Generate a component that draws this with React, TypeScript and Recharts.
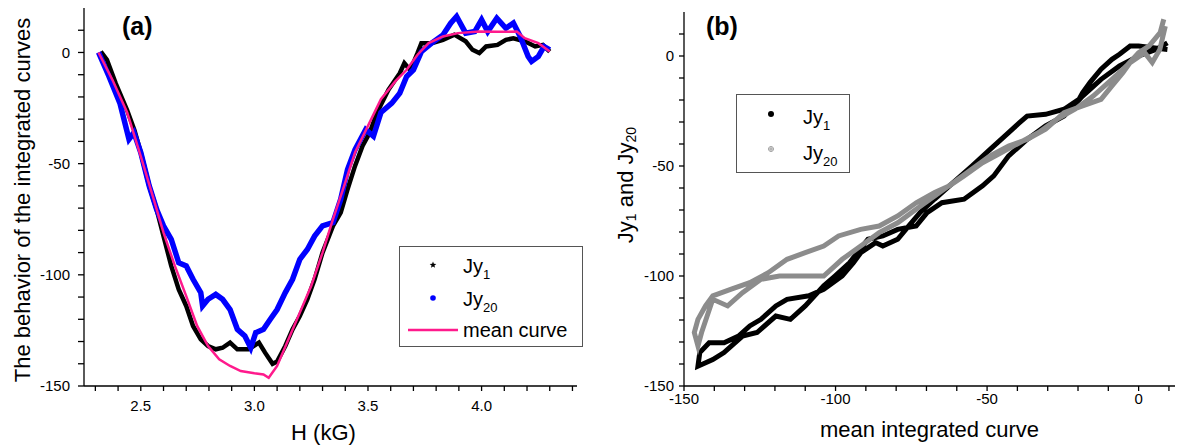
import { ComposedChart, Line, XAxis, YAxis, Legend } from 'recharts';

const FONT = '"Liberation Sans", Arial, Helvetica, sans-serif';
const PINK = '#ff1a8c';
const BLUE = '#0000ff';
const GREY = '#8c8c8c';

// ---------------------------------------------------------------------------
// Panel (a): integrated curves vs field H (kG)
// ---------------------------------------------------------------------------

const jy1H = [
  2.324, 2.351, 2.39, 2.44, 2.472, 2.5, 2.537, 2.57, 2.6, 2.634, 2.667, 2.7, 2.73, 2.764,
  2.796, 2.83, 2.86, 2.893, 2.925, 2.974, 3.02, 3.047, 3.08, 3.1, 3.136, 3.168, 3.2, 3.233,
  3.265, 3.3, 3.346, 3.38, 3.41, 3.443, 3.476, 3.508, 3.54, 3.59, 3.64, 3.66, 3.686, 3.718,
  3.735, 3.78, 3.83, 3.88, 3.93, 3.96, 3.99, 4.02, 4.07, 4.107, 4.14, 4.19, 4.236, 4.27, 4.3,
];
const jy1Vals = [
  0.4, -3.3, -14, -26, -35, -45, -60, -70.7, -82.6, -96, -106.6, -114, -123, -129,
  -132, -133.5, -132.8, -130.5, -133.5, -133.5, -130.5, -135, -140, -139, -132, -124.5, -118.5, -111,
  -102, -90, -78, -72, -61.6, -51, -42, -36, -27, -16.8, -9.3, -4.8, -8, -0.3,
  4.2, 4.2, 5.7, 8, 5, 1.2, -0.3, 2.7, 3.4, 5.7, 6.4, 5, 2.7, 3.4, 0.4,
];

const jy20H = [
  2.314, 2.36, 2.408, 2.448, 2.47, 2.5, 2.537, 2.57, 2.6, 2.634, 2.667, 2.7, 2.73, 2.764,
  2.772, 2.796, 2.83, 2.86, 2.893, 2.925, 2.958, 2.984, 3.006, 3.04, 3.07, 3.1, 3.136, 3.168,
  3.2, 3.233, 3.265, 3.3, 3.346, 3.38, 3.41, 3.443, 3.49, 3.524, 3.557, 3.605, 3.64, 3.67,
  3.7, 3.735, 3.78, 3.83, 3.864, 3.89, 3.93, 3.97, 4.0, 4.027, 4.067, 4.107, 4.14, 4.17,
  4.205, 4.22, 4.25, 4.275, 4.3,
];
const jy20Vals = [
  0, -10.8, -22.8, -39, -36, -45, -60, -70.7, -78, -84, -94.6, -96, -102, -108,
  -114, -111, -108.8, -111, -115.6, -124.5, -127.5, -132.8, -126, -124.5, -120, -115.6, -108, -102,
  -93, -88.6, -82.6, -78, -76.5, -66, -52.7, -43.7, -34.7, -37.7, -27, -22.8, -18.3, -10.8,
  -7.8, 0.4, 4.2, 7.9, 13.2, 16.2, 8.7, 9.4, 14.7, 9.4, 15.4, 10.9, 13.2, 7.2,
  -1.8, -4, -1.8, 2.7, 1.2,
];

const meanH = [
  2.314, 2.375, 2.44, 2.5, 2.553, 2.6, 2.65, 2.7, 2.748, 2.796, 2.845, 2.893, 2.94, 3.0,
  3.04, 3.063, 3.1, 3.15, 3.2, 3.25, 3.3, 3.346, 3.395, 3.443, 3.5, 3.557, 3.62, 3.67,
  3.718, 3.767, 3.83, 3.896, 3.99, 4.07, 4.155, 4.19, 4.25, 4.3,
];
const meanVals = [
  0, -12.3, -27, -46.7, -64.7, -81, -96, -109.6, -123, -132, -138, -141, -143.3, -144.3,
  -144.8, -146.3, -141, -129, -117, -105, -90, -75, -60, -45, -33, -21, -13, -7.8,
  -1, 4.2, 7.2, 8.7, 9.4, 9.3, 9.4, 6.4, 4.2, 0.4,
];

const xTicksA = [2.3, 2.4, 2.5, 2.6, 2.7, 2.8, 2.9, 3.0, 3.1, 3.2, 3.3, 3.4, 3.5, 3.6, 3.7, 3.8, 3.9, 4.0, 4.1, 4.2, 4.3, 4.4];
const xLabelsA = [2.5, 3.0, 3.5, 4.0];
const yTicks = [-150, -140, -130, -120, -110, -100, -90, -80, -70, -60, -50, -40, -30, -20, -10, 0, 10];
const yLabels = [-150, -100, -50, 0];

// ---------------------------------------------------------------------------
// Panel (b): Jy vs mean integrated curve (traced in path order)
// ---------------------------------------------------------------------------

const jy1Mean = [
  9.5, 0, -2.8, -6.3, -8.8, -12.4, -16, -18.5, -19.7, -24.6, -30.7, -36.8, -39.3, -42.9,
  -49, -55, -61.2, -67.3, -72, -75.9, -79.5, -84.4, -86.8, -91.7, -94.1, -97.8, -103.9, -108.8,
  -116, -119.7, -124.6, -128.3, -132, -136.8, -141.7, -144.8, -145.4,
  -140.5, -136.8, -130.7, -125.9, -119.7, -114.9, -110, -103.9, -100.2, -95.4, -89.3, -84.4,
  -79.5, -73.4, -69.8, -64.9, -57.6, -51.5, -47.8, -42.9, -36.8, -30.7, -24.6, -18.5, -12.4,
  -6.3, 0, 5.7, 9.5,
];
const jy1B = [
  3, 4.5, 4.5, 0.8, -1.5, -6, -12, -16.7, -19.7, -24.2, -26.5, -27.3, -30.3, -34.8,
  -42.4, -50, -57.6, -65, -71, -77.3, -83.3, -86.4, -84.8, -89.4, -94, -100, -106, -109,
  -110.6, -113.6, -119.7, -122.7, -127.3, -130.3, -130.3, -134.8, -141,
  -138, -134.8, -127.3, -125.7, -118.2, -119.7, -113.6, -104.5, -100, -94, -83.3, -81.8,
  -78.8, -77.3, -71.2, -66.7, -65.1, -59, -54.5, -45.4, -37.9, -31.8, -27.3, -18.2, -10.6,
  -4.5, 0, 3, 6,
];

const jy20Mean = [
  8.3, 7.1, 3.4, 0, -4, -8.8, -15, -21, -27, -33, -39.3, -45.4, -51.5, -57.6,
  -62.4, -67.3, -73.4, -79.5, -85.6, -91.7, -99, -103.9, -110, -116, -122.2, -128.3, -134.4, -140.5,
  -142.9, -145.4, -146.6, -145.4, -144.2,
  -140.5, -135.6, -130.7, -124.6, -118.5, -111.2, -103.9, -97.8, -91.7, -85.6, -79.5, -73.4,
  -67.3, -61.2, -55.1, -49, -42.9, -36.8, -30.7, -24.6, -18.5, -12.4, -8.8, -5.2, -2.8,
  2, 4.5, 7, 8.8,
];
const jy20B = [
  16.7, 10.6, 4.5, 1.5, -4.5, -10.6, -18.2, -24.2, -28.8, -34.8, -39.4, -44, -48.5, -54.5,
  -59, -62, -66.7, -72.7, -77.3, -78.8, -81.8, -86.4, -89.4, -92.4, -98.5, -103, -106, -109,
  -113.6, -119.7, -125.7, -131.8, -125.7,
  -110.6, -113.6, -107.6, -101.5, -100, -100, -100, -92.4, -86.4, -80.3, -75.8, -69.7,
  -63.6, -57.6, -51.5, -45.4, -40.9, -37.9, -33.3, -25.8, -22.7, -19.7, -13.6, -7.6, -3,
  1.5, -3, 3, 13.6,
];

const xTicksB = [-150, -140, -130, -120, -110, -100, -90, -80, -70, -60, -50, -40, -30, -20, -10, 0, 10];
const xLabelsB = [-150, -100, -50, 0];

// ---------------------------------------------------------------------------
// Helpers
// ---------------------------------------------------------------------------

const zip = (xs: number[], ys: number[]) => xs.map((x, i) => ({ x, y: ys[i] }));

const tickStyle = { fontSize: 15, fill: '#000', fontFamily: FONT };
const axisLine = { stroke: '#000', strokeWidth: 1.3 };

function YTitleA({ viewBox }: any) {
  const cx = 22;
  const cy = viewBox.y + viewBox.height / 2 + 3;
  return (
    <text
      x={cx}
      y={cy}
      transform={`rotate(-90 ${cx} ${cy})`}
      textAnchor="middle"
      dominantBaseline="central"
      fontFamily={FONT}
      fontSize={22}
      fill="#000"
    >
      The behavior of the integrated curves
    </text>
  );
}

function YTitleB({ viewBox }: any) {
  const cx = 25;
  const cy = viewBox.y + viewBox.height / 2 - 14;
  return (
    <text
      x={cx}
      y={cy}
      transform={`rotate(-90 ${cx} ${cy})`}
      textAnchor="middle"
      dominantBaseline="central"
      fontFamily={FONT}
      fontSize={22}
      fill="#000"
    >
      Jy<tspan fontSize={14} dy={6}>1</tspan>
      <tspan dy={-6}> and Jy</tspan>
      <tspan fontSize={14} dy={6}>20</tspan>
    </text>
  );
}

function Star({ cx, cy }: { cx: number; cy: number }) {
  const pts: string[] = [];
  for (let i = 0; i < 10; i++) {
    const r = i % 2 === 0 ? 3.5 : 1.5;
    const a = -Math.PI / 2 + (i * Math.PI) / 5;
    pts.push(`${cx + r * Math.cos(a)},${cy + r * Math.sin(a)}`);
  }
  return <polygon points={pts.join(' ')} fill="#000" />;
}

function LegendA() {
  return (
    <svg width={185} height={102} style={{ display: 'block' }}>
      <rect x={0.5} y={0.5} width={183} height={100} fill="#fff" stroke="#555" strokeWidth={1} />
      <Star cx={34} cy={19} />
      <text x={64} y={27} fontFamily={FONT} fontSize={20}>
        Jy<tspan fontSize={13} dy={6}>1</tspan>
      </text>
      <circle cx={34} cy={52} r={2.8} fill={BLUE} />
      <text x={64} y={60} fontFamily={FONT} fontSize={20}>
        Jy<tspan fontSize={13} dy={6}>20</tspan>
      </text>
      <line x1={9} x2={59} y1={84} y2={84} stroke={PINK} strokeWidth={2.5} />
      <text x={64} y={91} fontFamily={FONT} fontSize={20}>mean curve</text>
    </svg>
  );
}

function LegendB() {
  return (
    <svg width={115} height={80} style={{ display: 'block' }}>
      <rect x={0.5} y={0.5} width={113} height={78} fill="#fff" stroke="#555" strokeWidth={1} />
      <circle cx={35} cy={20} r={3} fill="#000" />
      <text x={67} y={30} fontFamily={FONT} fontSize={20}>
        Jy<tspan fontSize={13} dy={6}>1</tspan>
      </text>
      <circle cx={35} cy={55} r={2.5} fill="none" stroke={GREY} strokeWidth={0.8} />
      <line x1={32.5} x2={37.5} y1={55} y2={55} stroke={GREY} strokeWidth={0.8} />
      <line x1={35} x2={35} y1={52.5} y2={57.5} stroke={GREY} strokeWidth={0.8} />
      <text x={67} y={66} fontFamily={FONT} fontSize={20}>
        Jy<tspan fontSize={13} dy={6}>20</tspan>
      </text>
    </svg>
  );
}

const panelLabel = (left: number): React.CSSProperties => ({
  position: 'absolute',
  left,
  top: 14,
  fontFamily: FONT,
  fontWeight: 'bold',
  fontSize: 25,
  lineHeight: 1,
  color: '#000',
});

// ---------------------------------------------------------------------------
// App
// ---------------------------------------------------------------------------

export default function App() {
  return (
    <div style={{ position: 'absolute', left: 0, top: 0, width: 1200, height: 446, background: '#fff', overflow: 'hidden' }}>
      {/* (a) */}
      <div style={{ position: 'absolute', left: 0, top: 0 }}>
        <ComposedChart width={600} height={446} margin={{ top: 8, right: 23, bottom: 0, left: 0 }}>
          <XAxis
            type="number"
            dataKey="x"
            domain={[2.25, 4.42]}
            allowDataOverflow
            ticks={xTicksA}
            interval={0}
            tickFormatter={(v: number) => (xLabelsA.includes(v) ? v.toFixed(1) : '')}
            tick={tickStyle}
            tickSize={5}
            tickMargin={9}
            tickLine={axisLine}
            axisLine={axisLine}
            height={60}
            label={{ value: 'H (kG)', position: 'insideBottom', offset: 6, dx: -7, style: { fontSize: 22, fontFamily: FONT, fill: '#000' } }}
          />
          <YAxis
            type="number"
            domain={[-150, 20]}
            allowDataOverflow
            ticks={yTicks}
            interval={0}
            tickFormatter={(v: number) => (yLabels.includes(v) ? String(v) : '')}
            tick={tickStyle}
            tickSize={6}
            tickMargin={8}
            tickLine={axisLine}
            axisLine={axisLine}
            width={84}
            label={<YTitleA />}
          />
          <Line data={zip(jy1H, jy1Vals)} dataKey="y" type="linear" stroke="#000" strokeWidth={4.5} dot={false} isAnimationActive={false} />
          <Line data={zip(jy20H, jy20Vals)} dataKey="y" type="linear" stroke={BLUE} strokeWidth={5.5} dot={false} isAnimationActive={false} />
          <Line data={zip(meanH, meanVals)} dataKey="y" type="linear" stroke={PINK} strokeWidth={2.5} dot={false} isAnimationActive={false} />
          <Legend
            layout="vertical"
            align="center"
            verticalAlign="middle"
            content={<LegendA />}
            wrapperStyle={{ left: 399, top: 246, width: 185, height: 102 }}
          />
        </ComposedChart>
        <div style={panelLabel(122)}>(a)</div>
      </div>

      {/* (b) */}
      <div style={{ position: 'absolute', left: 600, top: 0 }}>
        <ComposedChart width={600} height={446} margin={{ top: 12, right: 25, bottom: 0, left: 0 }}>
          <XAxis
            type="number"
            dataKey="x"
            domain={[-150, 12]}
            allowDataOverflow
            ticks={xTicksB}
            interval={0}
            tickFormatter={(v: number) => (xLabelsB.includes(v) ? String(v) : '')}
            tick={tickStyle}
            tickSize={5}
            tickMargin={2}
            tickLine={axisLine}
            axisLine={axisLine}
            height={60}
            label={{ value: 'mean integrated curve', position: 'insideBottom', offset: 9, style: { fontSize: 22, fontFamily: FONT, fill: '#000' } }}
          />
          <YAxis
            type="number"
            domain={[-150, 20]}
            allowDataOverflow
            ticks={yTicks}
            interval={0}
            tickFormatter={(v: number) => (yLabels.includes(v) ? String(v) : '')}
            tick={tickStyle}
            tickSize={5}
            tickMargin={5}
            tickLine={axisLine}
            axisLine={axisLine}
            width={84}
            label={<YTitleB />}
          />
          <Line data={zip(jy1Mean, jy1B)} dataKey="y" type="linear" stroke="#000" strokeWidth={5} dot={false} isAnimationActive={false} />
          <Line data={zip(jy20Mean, jy20B)} dataKey="y" type="linear" stroke={GREY} strokeWidth={5} dot={false} isAnimationActive={false} />
          <Legend
            layout="vertical"
            align="center"
            verticalAlign="middle"
            content={<LegendB />}
            wrapperStyle={{ left: 136, top: 94, width: 115, height: 80 }}
          />
        </ComposedChart>
        <div style={panelLabel(106)}>(b)</div>
      </div>
    </div>
  );
}
